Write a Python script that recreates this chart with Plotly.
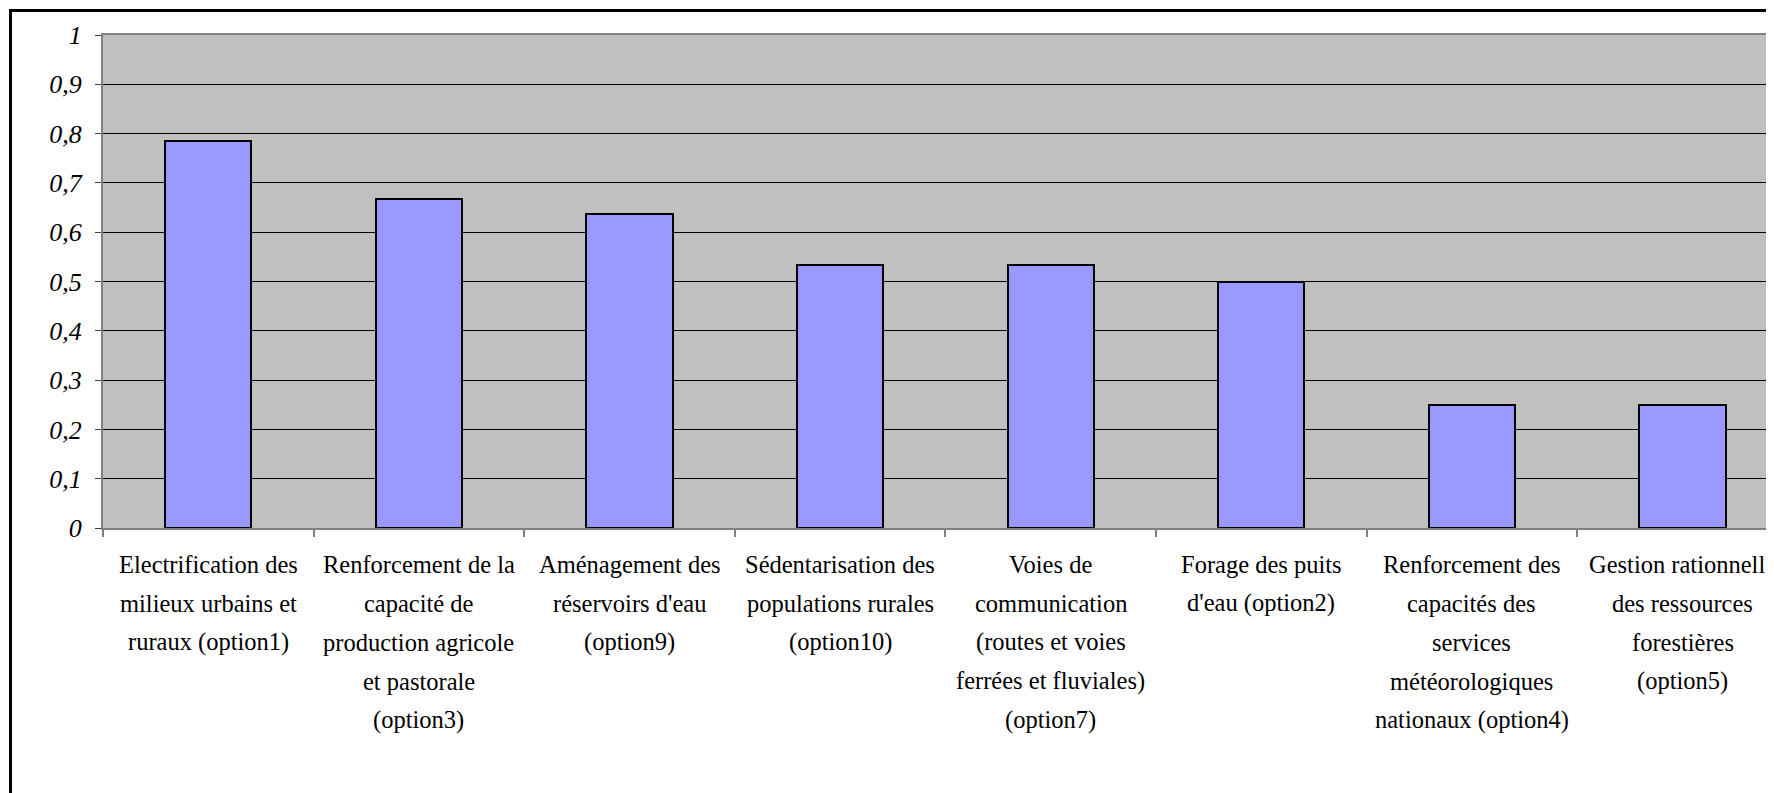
import plotly.graph_objects as go

# ---- data ----
categories = [
    "Electrification des milieux urbains et ruraux (option1)",
    "Renforcement de la capacité de production agricole et pastorale (option3)",
    "Aménagement des réservoirs d'eau (option9)",
    "Sédentarisation des populations rurales (option10)",
    "Voies de communication (routes et voies ferrées et fluviales) (option7)",
    "Forage des puits d'eau (option2)",
    "Renforcement des capacités des services météorologiques nationaux (option4)",
    "Gestion rationnelle des ressources forestières (option5)",
]
label_lines = [
    ["Electrification des", "milieux urbains et", "ruraux (option1)"],
    ["Renforcement de la", "capacité de", "production agricole", "et pastorale", "(option3)"],
    ["Aménagement des", "réservoirs d'eau", "(option9)"],
    ["Sédentarisation des", "populations rurales", "(option10)"],
    ["Voies de", "communication", "(routes et voies", "ferrées et fluviales)", "(option7)"],
    ["Forage des puits", "d'eau (option2)"],
    ["Renforcement des", "capacités des", "services", "météorologiques", "nationaux (option4)"],
    ["Gestion rationnelle", "des ressources", "forestières", "(option5)"],
]
values = [0.786, 0.667, 0.636, 0.533, 0.533, 0.5, 0.25, 0.25]
y_tickvals = [0, 0.1, 0.2, 0.3, 0.4, 0.5, 0.6, 0.7, 0.8, 0.9, 1]
y_ticktext = ["0", "0,1", "0,2", "0,3", "0,4", "0,5", "0,6", "0,7", "0,8", "0,9", "1"]

# page has an 8px body margin, so the figure is sized/offset accordingly
OFF = 8
W, H = 1774 - OFF, 793 - OFF
ML, MR, MT, MB = 103 - OFF, 0, 35 - OFF, 265
plot_w = W - ML - MR
plot_h = H - MT - MB
cat_px = 210.6
x_span = plot_w / cat_px

fig = go.Figure()
fig.add_trace(go.Bar(
    x=categories, y=values, width=0.41,
    marker=dict(color="#9999FF", line=dict(color="#000000", width=2)),
    hoverinfo="skip",
))

annotations = []
for cat, lines in zip(categories, label_lines):
    for j, line in enumerate(lines):
        annotations.append(dict(
            x=cat, xref="x", y=0, yref="paper",
            text=line, showarrow=False,
            xanchor="center", yanchor="middle",
            yshift=-36 - 39 * j,
            font=dict(family="Liberation Serif", size=24.5, color="#000000"),
        ))

fig.update_layout(
    width=W, height=H,
    margin=dict(l=ML, r=MR, t=MT, b=MB, pad=0),
    paper_bgcolor="#FFFFFF",
    plot_bgcolor="#C0C0C0",
    showlegend=False,
    bargap=0,
    annotations=annotations,
    shapes=[dict(
        type="rect", xref="paper", yref="paper",
        x0=(10.5 - OFF - ML) / plot_w, x1=1.2,
        y0=-2, y1=1 + (MT - (10.5 - OFF)) / plot_h,
        line=dict(color="#000000", width=3),
        fillcolor="rgba(0,0,0,0)", layer="above",
    )],
    xaxis=dict(
        type="category",
        categoryorder="array", categoryarray=categories,
        range=[-0.5, -0.5 + x_span],
        tickson="boundaries", ticks="outside", ticklen=7, tickwidth=1.5,
        tickcolor="#808080",
        showgrid=False, zeroline=False,
        showline=True, linecolor="#808080", linewidth=2, mirror=True,
        showticklabels=False, fixedrange=True,
    ),
    yaxis=dict(
        range=[0, 1],
        tickmode="array", tickvals=y_tickvals, ticktext=y_ticktext,
        ticks="outside", ticklen=6, tickwidth=1, tickcolor="#404040",
        showgrid=True, gridcolor="#000000", gridwidth=1,
        zeroline=False,
        showline=True, linecolor="#808080", linewidth=2,
        tickfont=dict(family="Liberation Serif", size=26, color="#000000", style="italic"),
        ticklabelstandoff=8,
        fixedrange=True,
    ),
)

fig.write_html("out.html", config={"displayModeBar": False})
